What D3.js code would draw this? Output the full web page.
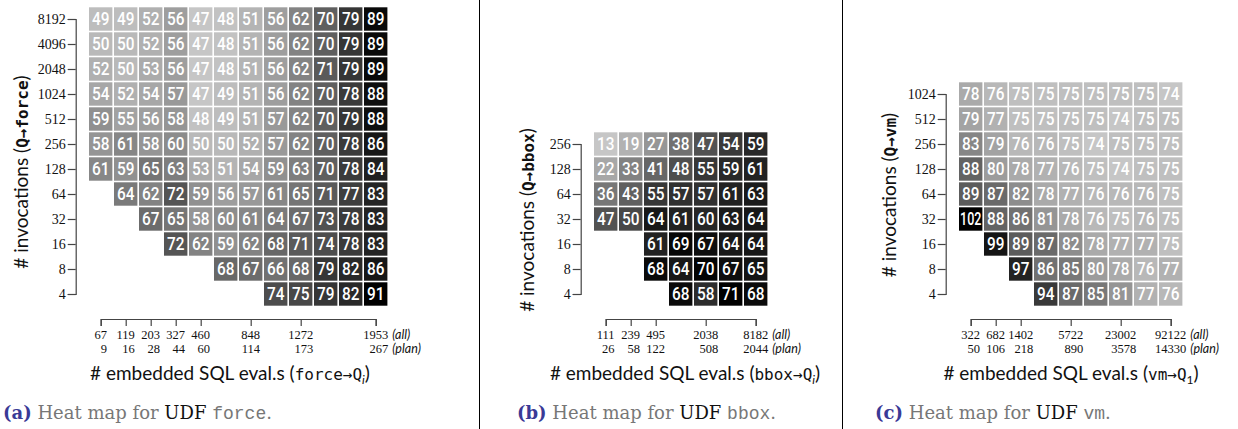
<!DOCTYPE html>
<html>
<head>
<meta charset="utf-8">
<script src="https://cdn.jsdelivr.net/npm/d3@7/dist/d3.min.js"></script>
<style>
  body { margin: 0; background: #fff; }
  svg { display: block; }
  .axis path, .axis line { stroke: #444; stroke-width: 1.2; }
  .axis-y text { font-family: "Liberation Serif", serif; font-size: 14px; fill: #111; }
  .xlab { font-family: "Liberation Serif", serif; font-size: 12.5px; fill: #111; }
  .xnote { font-family: "Lato", sans-serif; font-style: italic; font-size: 12.5px; fill: #111; }
  .cell text { font-family: "Roboto", sans-serif; font-weight: 500; font-size: 18px; fill: #fff; }
  .title { font-family: "Lato", sans-serif; font-size: 19px; fill: #111; }
  .mono { font-family: "DejaVu Sans Mono", monospace; font-size: 16px; }
  .caption { font-family: "DejaVu Serif", serif; font-size: 18px; fill: #777; }
</style>
</head>
<body>
<svg id="chart" width="1238" height="429"></svg>
<script>
// (a) UDF force
const forceRows = [8192, 4096, 2048, 1024, 512, 256, 128, 64, 32, 16, 8, 4];
const forceTickCols = [0, 1, 2, 3, 4, 6, 8, 11];
const forceTickAll = [67, 119, 203, 327, 460, 848, 1272, 1953];
const forceTickPlan = [9, 16, 28, 44, 60, 114, 173, 267];
const forceValues = [
  [49, 49, 52, 56, 47, 48, 51, 56, 62, 70, 79, 89],
  [50, 50, 52, 56, 47, 48, 51, 56, 62, 70, 79, 89],
  [52, 50, 53, 56, 47, 48, 51, 56, 62, 71, 79, 89],
  [54, 52, 54, 57, 47, 49, 51, 56, 62, 70, 78, 88],
  [59, 55, 56, 58, 48, 49, 51, 57, 62, 70, 79, 88],
  [58, 61, 58, 60, 50, 50, 52, 57, 62, 70, 78, 86],
  [61, 59, 65, 63, 53, 51, 54, 59, 63, 70, 78, 84],
  [null, 64, 62, 72, 59, 56, 57, 61, 65, 71, 77, 83],
  [null, null, 67, 65, 58, 60, 61, 64, 67, 73, 78, 83],
  [null, null, null, 72, 62, 59, 62, 68, 71, 74, 78, 83],
  [null, null, null, null, null, 68, 67, 66, 68, 79, 82, 86],
  [null, null, null, null, null, null, null, 74, 75, 79, 82, 91],
];

// (b) UDF bbox
const bboxRows = [256, 128, 64, 32, 16, 8, 4];
const bboxTickCols = [0, 1, 2, 4, 6];
const bboxTickAll = [111, 239, 495, 2038, 8182];
const bboxTickPlan = [26, 58, 122, 508, 2044];
const bboxValues = [
  [13, 19, 27, 38, 47, 54, 59],
  [22, 33, 41, 48, 55, 59, 61],
  [36, 43, 55, 57, 57, 61, 63],
  [47, 50, 64, 61, 60, 63, 64],
  [null, null, 61, 69, 67, 64, 64],
  [null, null, 68, 64, 70, 67, 65],
  [null, null, null, 68, 58, 71, 68],
];

// (c) UDF vm
const vmRows = [1024, 512, 256, 128, 64, 32, 16, 8, 4];
const vmTickCols = [0, 1, 2, 4, 6, 8];
const vmTickAll = [322, 682, 1402, 5722, 23002, 92122];
const vmTickPlan = [50, 106, 218, 890, 3578, 14330];
const vmValues = [
  [78, 76, 75, 75, 75, 75, 75, 75, 74],
  [79, 77, 75, 75, 75, 75, 74, 75, 75],
  [83, 79, 76, 76, 75, 74, 75, 75, 75],
  [88, 80, 78, 77, 76, 75, 74, 75, 75],
  [89, 87, 82, 78, 77, 76, 76, 76, 75],
  [102, 88, 86, 81, 78, 76, 75, 76, 75],
  [null, 99, 89, 87, 82, 78, 77, 77, 75],
  [null, null, 97, 86, 85, 80, 78, 76, 77],
  [null, null, null, 94, 87, 85, 81, 77, 76],
];

const svg = d3.select("#chart");
const STEP = 25;
const BOTTOM_ROW = 294;

svg.selectAll("line.divider")
  .data([479.5, 842.5])
  .join("line")
  .attr("class", "divider")
  .attr("x1", (d) => d).attr("x2", (d) => d)
  .attr("y1", 0).attr("y2", 429)
  .attr("stroke", "#000")
  .attr("stroke-width", 1);

drawPanel({
  rows: forceRows, values: forceValues,
  tickCols: forceTickCols, tickAll: forceTickAll, tickPlan: forceTickPlan,
  x0: 100.7, udf: "force", sub: "i", subItalic: true,
  yTitle: { x: 22, y: 172 }, xTitleX: 230,
  caption: { x: 3, letter: "(a)" },
});

drawPanel({
  rows: bboxRows, values: bboxValues,
  tickCols: bboxTickCols, tickAll: bboxTickAll, tickPlan: bboxTickPlan,
  x0: 605.7, udf: "bbox", sub: "i", subItalic: true,
  yTitle: { x: 528, y: 220 }, xTitleX: 685,
  caption: { x: 517, letter: "(b)" },
});

drawPanel({
  rows: vmRows, values: vmValues,
  tickCols: vmTickCols, tickAll: vmTickAll, tickPlan: vmTickPlan,
  x0: 970.7, udf: "vm", sub: "1", subItalic: false,
  yTitle: { x: 890, y: 195 }, xTitleX: 1071,
  caption: { x: 875, letter: "(c)" },
});

function drawPanel(p) {
  const nCols = p.values[0].length;
  const cols = p.values[0].map((_, i) => i);
  const top = BOTTOM_ROW - (p.rows.length - 1) * STEP;

  const x = d3.scalePoint().domain(cols).range([p.x0, p.x0 + (nCols - 1) * STEP]);
  const y = d3.scalePoint().domain(p.rows).range([top, BOTTOM_ROW]);

  const flat = [];
  p.values.forEach((row, r) => row.forEach((v, c) => {
    if (v !== null) flat.push({ row: p.rows[r], col: c, value: v });
  }));

  const color = d3.scaleLinear()
    .domain(d3.extent(flat, (d) => d.value))
    .range(["#c6c6c6", "#000000"]);

  const size = STEP - 1.6;
  const g = svg.append("g");

  const cell = g.selectAll("g.cell")
    .data(flat)
    .join("g")
    .attr("class", "cell")
    .attr("transform", (d) => `translate(${x(d.col)},${y(d.row)})`);

  cell.append("rect")
    .attr("x", -size / 2).attr("y", -size / 2)
    .attr("width", size).attr("height", size)
    .attr("fill", (d) => color(d.value));

  // squeeze the digits horizontally so they look condensed, like the original
  cell.append("text")
    .attr("text-anchor", "middle")
    .attr("dy", "0.36em")
    .text((d) => d.value)
    .each(function (d) {
      const digits = String(d.value).length;
      const target = digits > 2 ? size - 2 : 17.5;
      const w = this.getComputedTextLength();
      if (w > target) {
        d3.select(this).attr("transform", `scale(${target / w},1)`);
      }
    });

  // y axis
  const yAxisX = p.x0 - STEP;
  g.append("g")
    .attr("class", "axis axis-y")
    .attr("transform", `translate(${yAxisX},0)`)
    .call(d3.axisLeft(y).tickSize(8).tickSizeOuter(8).tickPadding(2))
    .call((a) => a.selectAll("text").attr("dy", "0.34em"));

  // x axis
  const xAxisY = BOTTOM_ROW + STEP;
  g.append("g")
    .attr("class", "axis axis-x")
    .attr("transform", `translate(0,${xAxisY})`)
    .call(d3.axisBottom(x).tickValues(p.tickCols).tickSize(7).tickSizeOuter(7).tickFormat(""));

  let lastRight = 0;
  p.tickCols.forEach((c, i) => {
    const topText = g.append("text")
      .attr("class", "xlab")
      .attr("x", x(c))
      .attr("y", xAxisY + 20)
      .attr("text-anchor", "middle")
      .text(p.tickAll[i]);
    const box = topText.node().getBBox();
    const right = box.x + box.width;
    g.append("text")
      .attr("class", "xlab")
      .attr("x", right)
      .attr("y", xAxisY + 34)
      .attr("text-anchor", "end")
      .text(p.tickPlan[i]);
    lastRight = right;
  });

  g.append("text").attr("class", "xnote")
    .attr("x", lastRight + 4).attr("y", xAxisY + 20).text("(all)");
  g.append("text").attr("class", "xnote")
    .attr("x", lastRight + 4).attr("y", xAxisY + 34).text("(plan)");

  // x title
  const xt = g.append("text")
    .attr("class", "title")
    .attr("x", p.xTitleX)
    .attr("y", 380)
    .attr("text-anchor", "middle");
  xt.append("tspan").text("# embedded SQL eval.s (");
  xt.append("tspan").attr("class", "mono").text(`${p.udf}\u2192Q`);
  xt.append("tspan").attr("dy", 4).attr("font-size", 12)
    .attr("font-style", p.subItalic ? "italic" : "normal").text(p.sub);
  xt.append("tspan").attr("dy", -4).text(")");

  // y title
  const yt = g.append("text")
    .attr("class", "title")
    .attr("transform", `translate(${p.yTitle.x + 6},${p.yTitle.y}) rotate(-90)`)
    .attr("text-anchor", "middle");
  yt.append("tspan").text("# invocations (");
  yt.append("tspan").attr("class", "mono").attr("font-weight", "bold").text(`Q\u2192${p.udf}`);
  yt.append("tspan").text(")");

  // caption
  const cap = g.append("text")
    .attr("class", "caption")
    .attr("x", p.caption.x)
    .attr("y", 419);
  cap.append("tspan").attr("fill", "#3a3a96").attr("font-weight", "bold").text(p.caption.letter);
  cap.append("tspan").text(" Heat map for ");
  cap.append("tspan").attr("fill", "#111").text("UDF");
  cap.append("tspan").text(" ");
  cap.append("tspan").attr("font-family", "Liberation Mono, monospace").attr("font-size", 18).text(p.udf);
  cap.append("tspan").text(".");
}
</script>
</body>
</html>
